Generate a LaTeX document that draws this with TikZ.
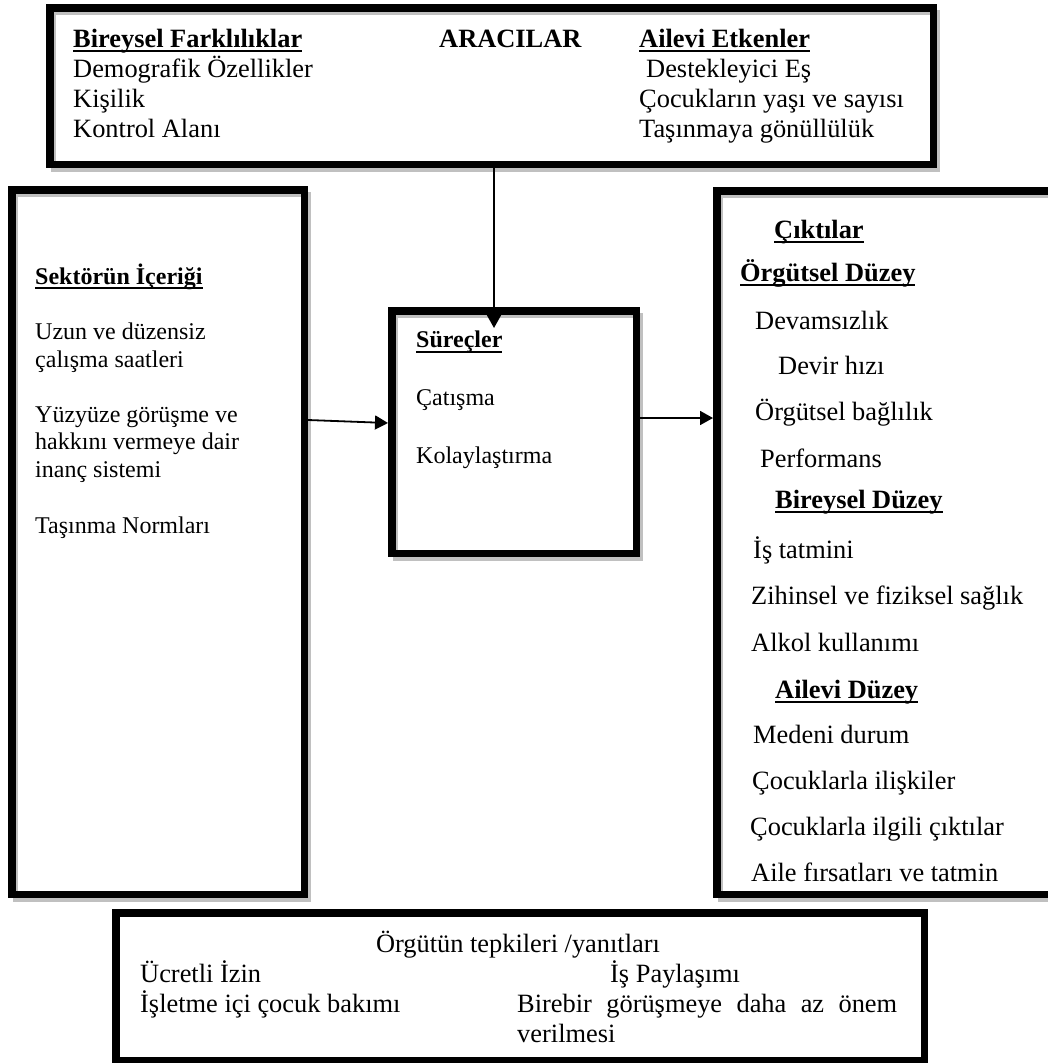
\documentclass[tikz,border=0pt]{standalone}
\usepackage{fontspec}
\setmainfont{Liberation Serif}
\usetikzlibrary{arrows.meta,positioning}
\usepackage{xcolor}
\newcommand\ulin[1]{\setbox0\hbox{#1}\rlap{\rule[-5pt]{\wd0}{2pt}}\box0}

\begin{document}
\begin{tikzpicture}[x=1pt,y=-1pt,
  framebox/.style={draw,line width=7.5pt,inner sep=0pt,
    preaction={draw=shadowgray,line width=5pt,transform canvas={xshift=4pt,yshift=-5pt}}},
  plainbox/.style={draw,line width=7.5pt,inner sep=0pt},
  conn/.style={line width=1.8pt,-{Triangle[length=13pt,width=14pt]}},
  big/.style={anchor=base west,inner sep=0pt,font=\fontsize{26.4}{30}\selectfont},
  small/.style={anchor=base west,inner sep=0pt,font=\fontsize{24}{27.5}\selectfont}]
% Define colors
\definecolor{shadowgray}{RGB}{192,192,192}

\useasboundingbox (0,0) rectangle (1047,1063);

% Boxes
\node[framebox,minimum width=883.5pt,minimum height=156.5pt] (arac) at (491.5,86) {};
\node[framebox,minimum width=292.5pt,minimum height=704.5pt] (sektor) at (158,542) {};
\node[framebox,minimum width=244.5pt,minimum height=242.5pt] (surec) at (514,432) {};
\node[framebox,minimum width=340pt,minimum height=703.5pt] (cikti) at (886.75,542.5) {};
\node[plainbox,minimum width=808.5pt,minimum height=147.5pt] (orgut) at (520,986.5) {};

% Arrows
\draw[conn,shorten >=-21pt] ([xshift=2.5pt]arac.south) -- ([xshift=2.5pt]arac.south |- surec.north);
\draw[conn] (sektor.east |- 0,420) -- (surec.west |- 0,423);
\draw[conn] (surec.east |- 0,418) -- (cikti.west |- 0,418);

% Top box: ARACILAR
\node[big] (bireysel) at (73,47) {\textbf{\ulin{Bireysel Farklılıklar}}};
\node[big] (aracilar) at (439,47) {\textbf{ARACILAR}};
\node[big] (ailevi) at (639,47) {\textbf{\ulin{Ailevi Etkenler}}};
\node[big] (demog) at (73,77) {Demografik Özellikler};
\node[big] (kisilik) at (73,107) {Kişilik};
\node[big] (kontrol) at (73,137) {Kontrol Alanı};
\node[big] (destek) at (646,77) {Destekleyici Eş};
\node[big] (cocuk) at (639,107) {Çocukların yaşı ve sayısı};
\node[big] (tasin) at (639,137) {Taşınmaya gönüllülük};

% Left box: sector
\node[small] (sekbas) at (35,284) {\textbf{\ulin{Sektörün İçeriği}}};
\node[small] (uzun1) at (35,339.5) {Uzun ve düzensiz};
\node[small] (uzun2) at (35,367) {çalışma saatleri};
\node[small] (yuz1) at (35,422.5) {Yüzyüze görüşme ve};
\node[small] (yuz2) at (35,449.5) {hakkını vermeye dair};
\node[small] (yuz3) at (35,477) {inanç sistemi};
\node[small] (norm) at (35,533) {Taşınma Normları};

% Middle box: processes
\node[small] (surbas) at (416,347.5) {\textbf{\ulin{Süreçler}}};
\node[small] (catis) at (416,405) {Çatışma};
\node[small] (kolay) at (416,463) {Kolaylaştırma};

% Right box: outcomes
\node[big] (ciktbas) at (774,238) {\textbf{\ulin{Çıktılar}}};
\node[big] (orgduz) at (740,281) {\textbf{\ulin{Örgütsel Düzey}}};
\node[big] (devam) at (755,329) {Devamsızlık};
\node[big] (devir) at (778,374) {Devir hızı};
\node[big] (bagli) at (755,420) {Örgütsel bağlılık};
\node[big] (perf) at (760,467) {Performans};
\node[big] (birduz) at (775,508) {\textbf{\ulin{Bireysel Düzey}}};
\node[big] (tatmin) at (753,558) {İş tatmini};
\node[big] (saglik) at (751,604) {Zihinsel ve fiziksel sağlık};
\node[big] (alkol) at (751,651) {Alkol kullanımı};
\node[big] (ailduz) at (775,698) {\textbf{\ulin{Ailevi Düzey}}};
\node[big] (medeni) at (753,743) {Medeni durum};
\node[big] (iliski) at (752,789) {Çocuklarla ilişkiler};
\node[big] (ilgili) at (750,835) {Çocuklarla ilgili çıktılar};
\node[big] (firsat) at (751,881) {Aile fırsatları ve tatmin};

% Bottom box: responses
\node[big,anchor=base] (tepki) at (518,952) {Örgütün tepkileri /yanıtları};
\node[big] (izin) at (140,982) {Ücretli İzin};
\node[big] (paylas) at (610,982) {İş Paylaşımı};
\node[big] (bakim) at (140,1012.5) {İşletme içi çocuk bakımı};
\node[big] (birebir) at (517,1012.5) {\makebox[380pt][s]{Birebir görüşmeye daha az önem}};
\node[big] (verilme) at (517,1042) {verilmesi};
\end{tikzpicture}
\end{document}
